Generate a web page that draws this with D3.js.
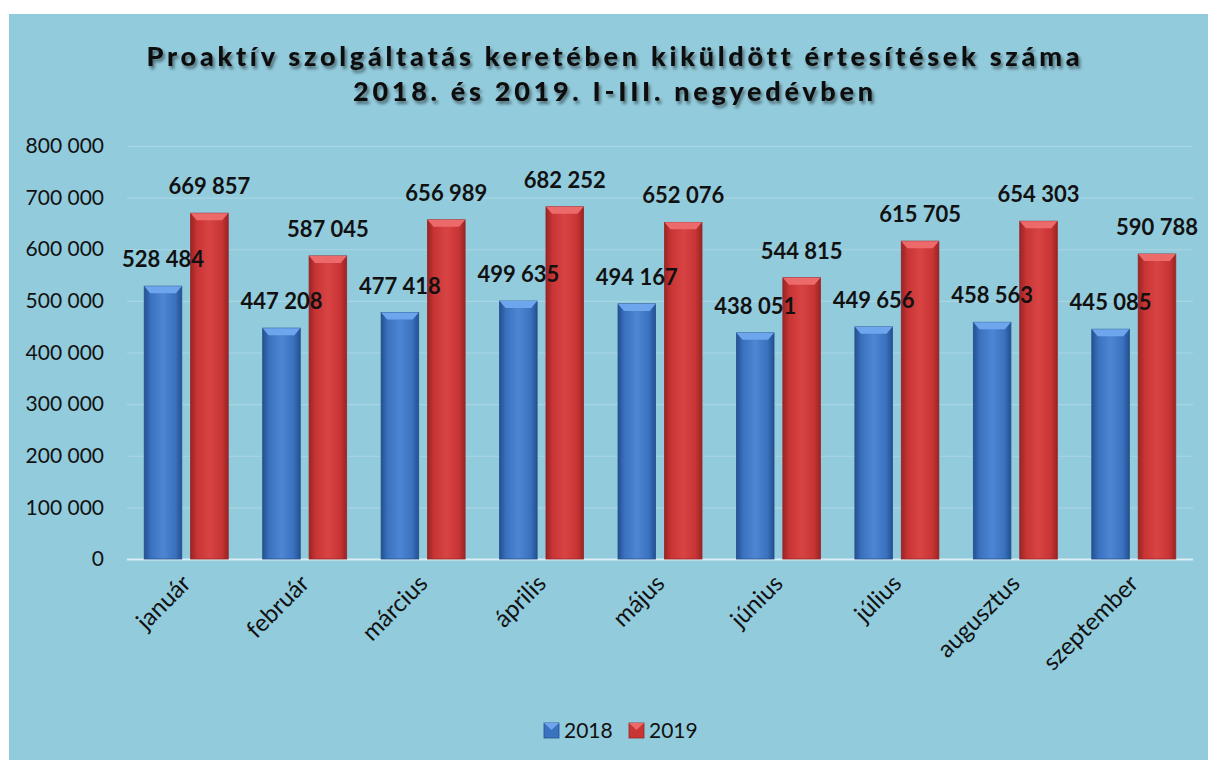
<!DOCTYPE html>
<html>
<head>
	<meta charset="utf-8">
	<title></title>
	<style>
		body { margin: 0; background: #fff; }
		text { font-family: Lato, "Open Sans", sans-serif; font-variant-ligatures: none; }
	</style>
</head>
<body>
	<svg id="container" width="1208" height="760"></svg>
</body>
<script type="text/javascript" src="https://cdn.jsdelivr.net/npm/d3@7"></script>
<script>
	// data
	let months = ["január", "február", "március", "április", "május", "június", "július", "augusztus", "szeptember"]
	let years = ["2018", "2019"]
	let values2018 = [528484, 447208, 477418, 499635, 494167, 438051, 449656, 458563, 445085]
	let values2019 = [669857, 587045, 656989, 682252, 652076, 544815, 615705, 654303, 590788]
	let yTicks = [0, 100000, 200000, 300000, 400000, 500000, 600000, 700000, 800000]
	let titleLines = ["Proaktív szolgáltatás keretében kiküldött értesítések száma", "2018. és 2019. I-III. negyedévben"]

	let rows = months.map((m, i) => ({ month: m, "2018": values2018[i], "2019": values2019[i] }))

	let colors = {
		"2018": { dark: "#24508f", mid: "#3b72c0", light: "#4f86d4", top: "#6ea6ee" },
		"2019": { dark: "#9a2424", mid: "#c93535", light: "#d84444", top: "#ec6a6a" }
	}

	let fmt = d3.formatLocale({ decimal: ",", thousands: " ", grouping: [3], currency: ["", ""] }).format(",d")

	let svg = d3.select("#container")

	// panel
	svg.append("rect").attr("x", 9).attr("y", 14).attr("width", 1199).attr("height", 746).attr("fill", "#92cbdc")

	let defs = svg.append("defs")
	let shadow = defs.append("filter").attr("id", "tshadow").attr("x", "-5%").attr("y", "-30%").attr("width", "110%").attr("height", "160%")
	shadow.append("feDropShadow").attr("dx", 2).attr("dy", 3).attr("stdDeviation", 1.6).attr("flood-color", "#000").attr("flood-opacity", 0.45)

	years.forEach(y => {
		let g = defs.append("linearGradient").attr("id", "grad" + y).attr("x1", 0).attr("x2", 1).attr("y1", 0).attr("y2", 0)
		g.append("stop").attr("offset", "0%").attr("stop-color", colors[y].dark)
		g.append("stop").attr("offset", "18%").attr("stop-color", colors[y].mid)
		g.append("stop").attr("offset", "50%").attr("stop-color", colors[y].light)
		g.append("stop").attr("offset", "82%").attr("stop-color", colors[y].mid)
		g.append("stop").attr("offset", "100%").attr("stop-color", colors[y].dark)
	})

	// title
	svg.append("text").attr("x", 613).attr("y", 66).attr("text-anchor", "middle")
		.attr("font-size", 27).attr("font-weight", 900).attr("fill", "#111")
		.attr("textLength", 933).attr("lengthAdjust", "spacing")
		.attr("filter", "url(#tshadow)").text(titleLines[0])
	svg.append("text").attr("x", 613).attr("y", 101).attr("text-anchor", "middle")
		.attr("font-size", 27).attr("font-weight", 900).attr("fill", "#111")
		.attr("textLength", 520).attr("lengthAdjust", "spacing")
		.attr("filter", "url(#tshadow)").text(titleLines[1])

	// scales
	let left = 127, right = 1193
	let y = d3.scaleLinear().domain([0, 800000]).range([559, 146])
	let x0 = d3.scaleBand().domain(months).range([left, right])
	let x1 = d3.scaleBand().domain(years).range([0, 84]).paddingInner(0.19)

	// grid + y axis
	let yAxis = svg.append("g").attr("transform", `translate(${left},0)`)
		.call(d3.axisLeft(y).tickValues(yTicks).tickFormat(fmt).tickSize(-(right - left)).tickPadding(23))
	yAxis.select(".domain").remove()
	yAxis.selectAll("line").attr("stroke", d => d === 0 ? "#d9eef5" : "#a8d6e4").attr("stroke-width", d => d === 0 ? 2 : 1.2)
	yAxis.selectAll("text").attr("font-size", 21).attr("fill", "#111")
		.style("font-family", "Lato, 'Open Sans', sans-serif")

	// bars
	let groups = svg.selectAll("g.month").data(rows).join("g").attr("class", "month")
		.attr("transform", d => `translate(${x0(d.month) + x0.bandwidth() / 2 - 42},0)`)

	let bars = groups.selectAll("g.bar").data(d => years.map(k => ({ year: k, value: d[k] }))).join("g").attr("class", "bar")

	bars.append("rect")
		.attr("x", d => x1(d.year))
		.attr("y", d => y(d.value))
		.attr("width", x1.bandwidth())
		.attr("height", d => y(0) - y(d.value))
		.attr("fill", d => `url(#grad${d.year})`)
		.attr("stroke", d => colors[d.year].dark).attr("stroke-width", 0.8)

	// bevel on top
	bars.append("polygon")
		.attr("points", d => {
			let bx = x1(d.year), bw = x1.bandwidth(), by = y(d.value)
			return [[bx, by], [bx + bw, by], [bx + bw - 6, by + 7], [bx + 6, by + 7]].map(p => p.join(",")).join(" ")
		})
		.attr("fill", d => colors[d.year].top)

	// value labels, drawn after all bars so they sit on top
	let labelData = rows.flatMap(d => years.map(k => ({ month: d.month, year: k, value: d[k] })))
	svg.selectAll("text.vlab").data(labelData).join("text").attr("class", "vlab")
		.attr("x", d => x0(d.month) + x0.bandwidth() / 2 - 42 + x1(d.year) + x1.bandwidth() / 2)
		.attr("y", d => y(d.value) - 19)
		.attr("text-anchor", "middle")
		.attr("font-size", 22).attr("font-weight", "bold").attr("fill", "#111")
		.text(d => fmt(d.value))

	// x labels
	svg.selectAll("text.xlab").data(months).join("text").attr("class", "xlab")
		.attr("transform", d => `translate(${x0(d) + x0.bandwidth() / 2 + 6},585) rotate(-45)`)
		.attr("text-anchor", "end").attr("font-size", 24).attr("fill", "#111")
		.text(d => d)

	// legend
	let legend = svg.selectAll("g.legend").data(years).join("g").attr("class", "legend")
		.attr("transform", (d, i) => `translate(${544 + i * 85},723)`)
	legend.append("rect").attr("width", 15).attr("height", 15)
		.attr("fill", d => colors[d].mid).attr("stroke", d => colors[d].dark).attr("stroke-width", 0.8)
	legend.append("polygon").attr("points", "0,0 15,0 7.5,7").attr("fill", d => colors[d].top)
	legend.append("text").attr("x", 20).attr("y", 15).attr("font-size", 21).attr("fill", "#111").text(d => d)
</script>
</html>
